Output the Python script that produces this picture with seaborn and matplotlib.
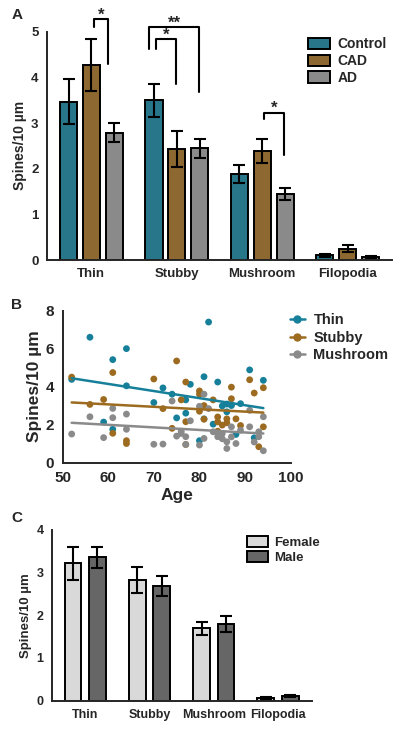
import numpy as np
import pandas as pd
import matplotlib
matplotlib.use("Agg")
import matplotlib.pyplot as plt
import seaborn as sns
from matplotlib.lines import Line2D

# ---- panel A : spine density by diagnosis ----
spine_types = ["Thin", "Stubby", "Mushroom", "Filopodia"]
diag_groups = ["Control", "CAD", "AD"]
diag_means = {
    "Control": [3.47, 3.50, 1.88, 0.10],
    "CAD": [4.28, 2.43, 2.39, 0.25],
    "AD": [2.79, 2.45, 1.45, 0.06],
}
diag_sem = {
    "Control": [0.50, 0.36, 0.20, 0.03],
    "CAD": [0.57, 0.39, 0.27, 0.07],
    "AD": [0.20, 0.21, 0.13, 0.02],
}
diag_colors = ["#16809a", "#9c6b20", "#8a8a8a"]

# ---- panel B : spine density vs age ----
thin_age = [52, 56, 59, 61, 61, 64, 64, 70, 72, 74, 75, 77, 77, 78, 80, 81, 81, 82, 83,
            84, 85, 86, 86, 87, 87, 88, 89, 91, 92, 94]
thin_val = [4.38, 6.6, 2.13, 5.42, 1.75, 6.0, 4.04, 3.16, 3.93, 3.6, 2.35, 2.6, 3.3, 4.12,
            1.15, 4.52, 2.3, 7.4, 2.02, 4.24, 2.98, 3.08, 2.67, 3.05, 3.0, 1.48, 3.1, 4.88,
            1.3, 4.33]
stubby_age = [52, 56, 59, 61, 61, 64, 64, 70, 72, 74, 75, 76, 77, 77, 77, 80, 80, 80, 81,
              81, 83, 84, 84, 84, 85, 86, 86, 87, 87, 88, 89, 91, 92, 93, 94, 94]
stubby_val = [4.5, 3.06, 3.32, 4.74, 1.54, 1.15, 1.0, 4.4, 2.84, 1.8, 5.35, 3.3, 4.24, 2.15,
              0.95, 3.77, 3.6, 2.7, 2.28, 3.0, 3.3, 2.4, 2.14, 1.65, 1.97, 2.09, 2.3, 3.97,
              3.36, 2.3, 1.95, 4.36, 3.66, 0.83, 3.94, 1.88]
mush_age = [52, 56, 59, 61, 61, 64, 64, 70, 72, 74, 75, 76, 76, 77, 77, 78, 80, 80, 81, 81,
            82, 83, 84, 84, 85, 85, 86, 86, 87, 87, 88, 89, 91, 91, 92, 93, 93, 94, 94]
mush_val = [1.5, 2.41, 1.31, 2.85, 2.36, 2.55, 1.75, 0.96, 0.97, 3.24, 1.39, 1.53, 1.65, 1.36,
            0.95, 2.2, 2.96, 0.92, 3.6, 1.27, 2.84, 1.62, 1.36, 1.55, 1.53, 1.25, 0.74, 1.09,
            1.88, 1.35, 1.0, 1.7, 1.88, 2.75, 1.08, 1.62, 1.36, 2.41, 0.62]

# ---- panel C : spine density by sex ----
sex_groups = ["Female", "Male"]
sex_means = {"Female": [3.22, 2.83, 1.70, 0.07], "Male": [3.36, 2.69, 1.80, 0.11]}
sex_sem = {"Female": [0.39, 0.30, 0.15, 0.02], "Male": [0.25, 0.23, 0.18, 0.03]}
sex_colors = ["#d9d9d9", "#666666"]

sns.set_style("white")
plt.rcParams["font.family"] = ["Liberation Sans", "DejaVu Sans"]
plt.rcParams["font.weight"] = "bold"
plt.rcParams["axes.linewidth"] = 1.4
plt.rcParams["xtick.major.width"] = 1.4
plt.rcParams["ytick.major.width"] = 1.4
plt.rcParams["xtick.major.size"] = 4
plt.rcParams["ytick.major.size"] = 4


def long_table(groups, means, sems):
    rows = []
    for g in groups:
        for i, t in enumerate(spine_types):
            rows.append({"type": t, "group": g, "mean": means[g][i], "sem": sems[g][i]})
    return pd.DataFrame(rows)


def bar_panel(ax, df, groups, colors, width, gap, fs):
    sns.barplot(data=df, x="type", y="mean", hue="group", hue_order=groups,
                palette=colors, width=width, gap=gap, edgecolor="black",
                linewidth=1.4, errorbar=None, ax=ax)
    # error bars at the bar centres
    for g, cont in zip(groups, ax.containers):
        sub = df[df["group"] == g]
        xs = [b.get_x() + b.get_width() / 2 for b in cont]
        ax.errorbar(xs, sub["mean"], yerr=sub["sem"], fmt="none", ecolor="black",
                    elinewidth=1.5, capsize=4, capthick=1.5)
    sns.despine(ax=ax)
    ax.set_xlim(-0.52, 3.52)
    ax.set_xlabel("")
    ax.tick_params(axis="both", labelsize=fs, length=4, width=1.4, pad=2)
    for lab in ax.get_xticklabels() + ax.get_yticklabels():
        lab.set_fontweight("bold")


fig = plt.figure(figsize=(4.01, 7.31), dpi=100)

# ---------- A ----------
axA = fig.add_axes([0.117, 0.6443, 0.861, 0.3123])
dfA = long_table(diag_groups, diag_means, diag_sem)
bar_panel(axA, dfA, diag_groups, diag_colors, 0.8, 0.25, 9.5)
axA.set_ylim(0, 5)
axA.set_yticks(range(0, 6))
axA.set_ylabel("Spines/10 µm", fontsize=10, fontweight="bold", labelpad=3)
axA.legend(loc="upper left", bbox_to_anchor=(0.72, 1.03), frameon=False,
           handlelength=1.6, handleheight=0.9, handletextpad=0.5, labelspacing=0.2,
           prop={"weight": "bold", "size": 10})


def bracket(ax, x1, x2, top, y1, y2, label):
    ax.plot([x1, x1, x2, x2], [y1, top, top, y2], color="black", lw=1.5, clip_on=False)
    ax.text((x1 + x2) / 2, top - 0.08, label, ha="center", va="bottom",
            fontsize=12, fontweight="bold")


bracket(axA, 0.03, 0.20, 5.27, 5.10, 4.30, "*")
bracket(axA, 1 - 0.32, 1 + 0.26, 5.10, 4.63, 3.69, "**")
bracket(axA, 1 - 0.24, 1 - 0.01, 4.83, 4.63, 3.85, "*")
bracket(axA, 2 + 0.02, 2 + 0.25, 3.23, 3.08, 2.30, "*")

# ---------- B ----------
axB = fig.add_axes([0.156, 0.3673, 0.569, 0.2077])
series = [("Thin", thin_age, thin_val, diag_colors[0]),
          ("Stubby", stubby_age, stubby_val, diag_colors[1]),
          ("Mushroom", mush_age, mush_val, diag_colors[2])]
handles = []
for name, ages, vals, col in series:
    d = pd.DataFrame({"age": ages, "val": vals})
    sns.scatterplot(data=d, x="age", y="val", color=col, s=24, edgecolor="none", ax=axB)
    sns.regplot(data=d, x="age", y="val", scatter=False, ci=None, truncate=True,
                color=col, line_kws={"lw": 1.8}, ax=axB)
    handles.append(Line2D([], [], color=col, lw=1.8, marker="o", markersize=5, label=name))
sns.despine(ax=axB)
axB.set_xlim(50, 100)
axB.set_ylim(0, 8)
axB.set_xticks(range(50, 101, 10))
axB.set_yticks(range(0, 9, 2))
axB.tick_params(axis="both", labelsize=11, length=4, width=1.4, pad=2)
for lab in axB.get_xticklabels() + axB.get_yticklabels():
    lab.set_fontweight("bold")
axB.set_xlabel("Age", fontsize=12.5, fontweight="bold", labelpad=2)
axB.set_ylabel("Spines/10 µm", fontsize=12.5, fontweight="bold", labelpad=3)
axB.legend(handles=handles, loc="upper left", bbox_to_anchor=(0.94, 1.07), frameon=False,
           handlelength=1.0, handletextpad=0.6, labelspacing=0.25,
           prop={"weight": "bold", "size": 10.5})

# ---------- C ----------
axC = fig.add_axes([0.129, 0.0415, 0.648, 0.2335])
dfC = long_table(sex_groups, sex_means, sex_sem)
bar_panel(axC, dfC, sex_groups, sex_colors, 0.76, 0.31, 9)
axC.set_ylim(0, 4)
axC.set_yticks(range(0, 5))
axC.set_ylabel("Spines/10 µm", fontsize=9.5, fontweight="bold", labelpad=3)
axC.legend(loc="upper left", bbox_to_anchor=(0.705, 1.035), frameon=False,
           handlelength=1.6, handleheight=0.9, handletextpad=0.5, labelspacing=0.15,
           prop={"weight": "bold", "size": 9.5})

# panel letters
for letter, y in [("A", 0.979), ("B", 0.583), ("C", 0.292)]:
    fig.text(0.028, y, letter, fontsize=11, fontweight="bold", va="center")

fig.savefig("out.png", dpi=100)
plt.close(fig)
